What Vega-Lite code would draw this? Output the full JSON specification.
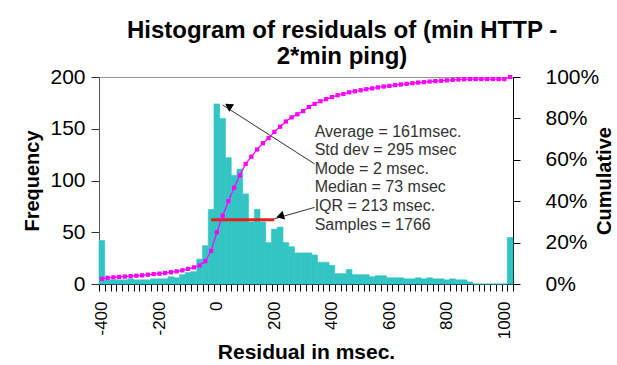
{
  "$schema": "https://vega.github.io/schema/vega-lite/v6.json",
  "width": 414,
  "height": 207,
  "autosize": {"type": "none"},
  "padding": {"left": 99, "top": 77, "right": 104, "bottom": 81},
  "background": "white",
  "config": {"font": "Liberation Sans", "view": {"stroke": "#999999", "strokeWidth": 1}},
  "title": {"text": ["Histogram of residuals of (min HTTP -", "2*min ping)"], "fontSize": 24, "fontWeight": "bold", "color": "black", "anchor": "middle", "lineHeight": 26, "offset": -3, "dx": 36, "font": "Liberation Sans"},
  "datasets": {
    "bins": [
      {"bin": -400, "count": 42, "cum": 2.5},
      {"bin": -380, "count": 4, "cum": 3.0},
      {"bin": -360, "count": 4, "cum": 3.2},
      {"bin": -340, "count": 4, "cum": 3.4},
      {"bin": -320, "count": 4, "cum": 3.6},
      {"bin": -300, "count": 5, "cum": 3.8},
      {"bin": -280, "count": 4, "cum": 4.0},
      {"bin": -260, "count": 4, "cum": 4.2},
      {"bin": -240, "count": 4, "cum": 4.5},
      {"bin": -220, "count": 5, "cum": 4.8},
      {"bin": -200, "count": 5, "cum": 5.0},
      {"bin": -180, "count": 5, "cum": 5.3},
      {"bin": -160, "count": 7, "cum": 5.7},
      {"bin": -140, "count": 6, "cum": 6.1},
      {"bin": -120, "count": 9, "cum": 6.6},
      {"bin": -100, "count": 11, "cum": 7.3},
      {"bin": -80, "count": 12, "cum": 8.0},
      {"bin": -60, "count": 24, "cum": 9.0},
      {"bin": -40, "count": 37, "cum": 11.0},
      {"bin": -20, "count": 72, "cum": 16.0},
      {"bin": 0, "count": 174, "cum": 25.0},
      {"bin": 20, "count": 160, "cum": 33.0},
      {"bin": 40, "count": 122, "cum": 40.0},
      {"bin": 60, "count": 105, "cum": 46.5},
      {"bin": 80, "count": 111, "cum": 52.5},
      {"bin": 100, "count": 87, "cum": 58.0},
      {"bin": 120, "count": 60, "cum": 61.5},
      {"bin": 140, "count": 72, "cum": 65.0},
      {"bin": 160, "count": 60, "cum": 68.0},
      {"bin": 180, "count": 40, "cum": 70.5},
      {"bin": 200, "count": 53, "cum": 73.5},
      {"bin": 220, "count": 55, "cum": 76.0},
      {"bin": 240, "count": 40, "cum": 78.5},
      {"bin": 260, "count": 36, "cum": 80.5},
      {"bin": 280, "count": 30, "cum": 82.0},
      {"bin": 300, "count": 30, "cum": 83.5},
      {"bin": 320, "count": 30, "cum": 85.5},
      {"bin": 340, "count": 28, "cum": 87.0},
      {"bin": 360, "count": 21, "cum": 88.3},
      {"bin": 380, "count": 21, "cum": 89.3},
      {"bin": 400, "count": 18, "cum": 90.3},
      {"bin": 420, "count": 10, "cum": 91.2},
      {"bin": 440, "count": 10, "cum": 91.8},
      {"bin": 460, "count": 14, "cum": 92.6},
      {"bin": 480, "count": 9, "cum": 93.1},
      {"bin": 500, "count": 9, "cum": 93.6},
      {"bin": 520, "count": 9, "cum": 94.1},
      {"bin": 540, "count": 7, "cum": 94.5},
      {"bin": 560, "count": 8, "cum": 95.0},
      {"bin": 580, "count": 8, "cum": 95.4},
      {"bin": 600, "count": 6, "cum": 95.7},
      {"bin": 620, "count": 6, "cum": 96.1},
      {"bin": 640, "count": 6, "cum": 96.4},
      {"bin": 660, "count": 5, "cum": 96.7},
      {"bin": 680, "count": 5, "cum": 97.0},
      {"bin": 700, "count": 6, "cum": 97.3},
      {"bin": 720, "count": 5, "cum": 97.5},
      {"bin": 740, "count": 6, "cum": 97.8},
      {"bin": 760, "count": 5, "cum": 98.0},
      {"bin": 780, "count": 5, "cum": 98.2},
      {"bin": 800, "count": 4, "cum": 98.4},
      {"bin": 820, "count": 5, "cum": 98.6},
      {"bin": 840, "count": 4, "cum": 98.8},
      {"bin": 860, "count": 4, "cum": 98.9},
      {"bin": 880, "count": 2, "cum": 99.0},
      {"bin": 900, "count": 0, "cum": 99.0},
      {"bin": 920, "count": 0, "cum": 99.0},
      {"bin": 940, "count": 0, "cum": 99.0},
      {"bin": 960, "count": 0, "cum": 99.0},
      {"bin": 980, "count": 0, "cum": 99.0},
      {"bin": 1000, "count": 0, "cum": 99.0},
      {"bin": 1020, "count": 45, "cum": 100.0}
    ],
    "iqr": [{"bin": -20, "bin2": 200, "count": 62, "count2": 62}],
    "arrows": [
      {"bin": 340, "bin2": 20, "count": 116, "count2": 173},
      {"bin": 340, "bin2": 200, "count": 74, "count2": 63}
    ],
    "heads": [
      {"bin": 40, "count": 172, "angle": 303},
      {"bin": 220, "count": 65.5, "angle": 254}
    ],
    "stats": [
      {"bin": 340, "count": 155, "label": ["Average = 161msec.", "Std dev = 295 msec", "Mode = 2 msec.", "Median = 73 msec", "IQR = 213 msec.", "Samples = 1766"]}
    ]
  },
  "resolve": {"scale": {"y": "independent"}},
  "layer": [
    {
      "layer": [
        {
          "data": {"name": "bins"},
          "mark": {"type": "bar", "color": "#33C4C4", "stroke": "#33C4C4", "strokeWidth": 0.6},
          "encoding": {
            "x": {
              "field": "bin", "type": "ordinal",
              "scale": {"type": "band", "paddingInner": 0, "paddingOuter": 0},
              "axis": {
                "title": "Residual in msec.",
                "labelExpr": "datum.value % 200 == 0 ? datum.label : ''",
                "labelAngle": -90, "labelOverlap": false, "labelFontSize": 17, "labelColor": "black",
                "labelPadding": 10, "tickSize": 7, "tickColor": "black", "tickBand": "extent",
                "domainColor": "#222222", "titleFontSize": 21, "titleFontWeight": "bold", "titleColor": "black",
                "titleX": 207, "titleY": 74, "titleBaseline": "alphabetic", "titleAlign": "center"
              }
            },
            "y": {
              "field": "count", "type": "quantitative",
              "scale": {"domain": [0, 200], "nice": false},
              "axis": {
                "title": "Frequency", "grid": false, "values": [0, 50, 100, 150, 200],
                "labelFontSize": 21, "labelColor": "black", "labelPadding": 6, "tickSize": 8, "tickColor": "#333333",
                "domainColor": "#555555", "titleFontSize": 20, "titleFontWeight": "bold", "titleColor": "black",
                "titleAngle": -90, "titleX": -61, "titleY": 103.5, "titleBaseline": "alphabetic", "titleAlign": "center"
              }
            }
          }
        },
        {
          "data": {"name": "iqr"},
          "mark": {"type": "rule", "color": "#E8201C", "strokeWidth": 3},
          "encoding": {
            "x": {"field": "bin", "type": "ordinal"},
            "x2": {"field": "bin2"},
            "y": {"field": "count", "type": "quantitative", "title": "Frequency"},
            "y2": {"field": "count2"}
          }
        },
        {
          "data": {"name": "arrows"},
          "mark": {"type": "rule", "color": "#333333", "strokeWidth": 1},
          "encoding": {
            "x": {"field": "bin", "type": "ordinal"},
            "x2": {"field": "bin2"},
            "y": {"field": "count", "type": "quantitative", "title": "Frequency"},
            "y2": {"field": "count2"}
          }
        },
        {
          "data": {"name": "heads"},
          "mark": {"type": "point", "shape": "triangle-up", "filled": true, "color": "black", "size": 80, "opacity": 1},
          "encoding": {
            "x": {"field": "bin", "type": "ordinal"},
            "y": {"field": "count", "type": "quantitative", "title": "Frequency"},
            "angle": {"field": "angle", "type": "quantitative", "scale": null}
          }
        },
        {
          "data": {"name": "stats"},
          "mark": {"type": "text", "align": "left", "baseline": "top", "fontSize": 16, "lineHeight": 18.6, "color": "#333333", "dx": 0},
          "encoding": {
            "x": {"field": "bin", "type": "ordinal"},
            "y": {"field": "count", "type": "quantitative", "title": "Frequency"},
            "text": {"field": "label"}
          }
        }
      ]
    },
    {
      "data": {"name": "bins"},
      "mark": {"type": "line", "color": "#FF00FF", "strokeWidth": 1.2, "point": {"shape": "square", "size": 18, "filled": true, "color": "#FF00FF"}},
      "encoding": {
        "x": {"field": "bin", "type": "ordinal"},
        "y": {
          "field": "cum", "type": "quantitative",
          "scale": {"domain": [0, 100], "nice": false},
          "axis": {
            "orient": "right", "title": "Cumulative", "grid": false, "values": [0, 20, 40, 60, 80, 100],
            "labelExpr": "datum.value + '%'",
            "labelFontSize": 21, "labelColor": "black", "labelPadding": 25, "tickSize": 7, "tickColor": "black",
            "domainColor": "black", "titleFontSize": 20, "titleFontWeight": "bold", "titleColor": "black",
            "titleAngle": -90, "titleX": 97, "titleY": 103.5, "titleBaseline": "alphabetic", "titleAlign": "center"
          }
        }
      }
    }
  ]
}
